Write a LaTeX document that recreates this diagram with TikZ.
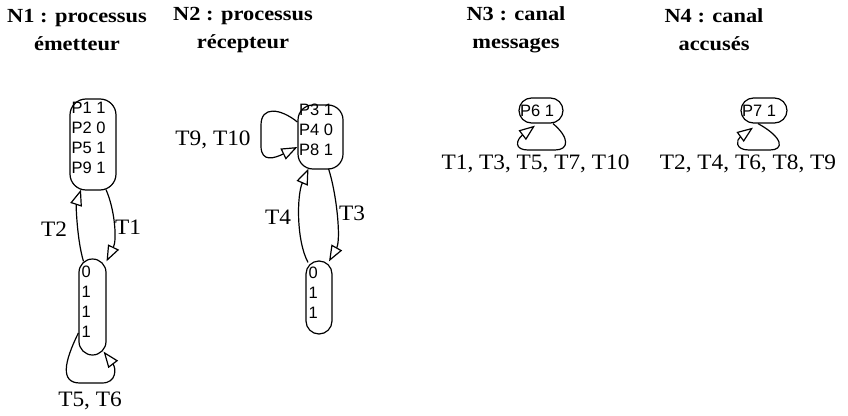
\documentclass[tikz,border=0pt]{standalone}
\usepackage{fontspec}
\setmainfont{Liberation Serif}
\newfontfamily\titlefont[FakeStretch=1.12]{Liberation Serif}
\newfontfamily\labfont[FakeStretch=1.06]{Liberation Serif}
\newfontfamily\placefont{Liberation Sans}
\usetikzlibrary{arrows.meta}
\begin{document}
\begin{tikzpicture}[x=1pt,y=-1pt,line width=1.2pt,
  statebox/.style={draw,rectangle,inner sep=0pt},
  placetext/.style={font=\placefont\fontsize{16.5}{20}\selectfont,align=left,inner sep=0pt,anchor=west},
  titletext/.style={font=\titlefont\bfseries\fontsize{20}{28}\selectfont,align=center,inner sep=0pt},
  lab/.style={font=\labfont\fontsize{22}{24}\selectfont,inner sep=0pt},
  arc/.style={-{Triangle[open,length=16pt,width=12pt]},line width=1.2pt}]
\useasboundingbox (0,0) rectangle (848,415);

% titles
\node[titletext] (t1) at (77,30) {N1 : processus\\émetteur};
\node[titletext] (t2) at (243,30) {N2 : processus\\récepteur};
\node[titletext] (t3) at (516,30) {N3 : canal\\messages};
\node[titletext] (t4) at (714,30) {N4 : canal\\accusés};

% N1
\node[statebox,rounded corners=16pt,minimum width=46pt,minimum height=91pt] (n1a) at (93,144.5) {};
\node[placetext] (n1at) at (71,138) {P1 1\\P2 0\\P5 1\\P9 1};
\node[statebox,rounded corners=13.5pt,minimum width=27pt,minimum height=96pt] (n1b) at (92.5,307) {};
\node[placetext] (n1bt) at (81,302) {0\\1\\1\\1};

\draw[arc] ([xshift=-9pt,yshift=-3pt]n1b.north) .. controls (77,240) and (76,205) .. ([xshift=-12pt,yshift=1pt]n1a.south);
\draw[arc] ([xshift=13pt,yshift=1pt]n1a.south) .. controls (115,210) and (117,240) .. ([xshift=14pt,yshift=-3pt]n1b.north);
\draw[arc] ([yshift=-26pt]n1b.west) .. controls (64,362) and (60,383) .. (80,383) -- (102,383) .. controls (117,383) and (116,368) .. ([xshift=-3pt,yshift=4pt]n1b.south east);

\node[lab] (l2) at (54,229) {T2};
\node[lab] (l1) at (128,227) {T1};
\node[lab] (l56) at (90,401) {T5, T6};

% N2
\node[statebox,rounded corners=15pt,minimum width=45pt,minimum height=64pt] (n2a) at (320.5,137) {};
\node[placetext] (n2at) at (298.5,130) {P3 1\\P4 0\\P8 1};
\node[statebox,rounded corners=13pt,minimum width=26pt,minimum height=73pt] (n2b) at (319,297.5) {};
\node[placetext] (n2bt) at (308,293) {0\\1\\1};

\draw[arc] ([xshift=-11pt,yshift=-2pt]n2b.north) .. controls (296,240) and (297,195) .. ([xshift=-12pt,yshift=1pt]n2a.south);
\draw[arc] ([xshift=8pt,yshift=1pt]n2a.south) .. controls (337,195) and (341,240) .. ([xshift=10pt,yshift=-1pt]n2b.north);
\draw[arc] ([yshift=15pt]n2a.west) .. controls (280,108) and (261,106) .. (261,125) -- (261,146) .. controls (261,163) and (275,158) .. ([yshift=-10pt]n2a.west);

\node[lab] (l9) at (213,140) {T9, T10};
\node[lab] (l4) at (278,217) {T4};
\node[lab] (l3) at (352,213) {T3};

% N3
\node[statebox,rounded corners=12.5pt,minimum width=44pt,minimum height=25pt] (n3) at (541,110.5) {};
\node[placetext,anchor=center] (n3t) at (537,111) {P6 1};
\draw[arc] ([xshift=12pt]n3.south) .. controls (570,138) and (569,150) .. (555,150) -- (528,150) .. controls (514,150) and (516,140) .. ([xshift=-6pt,yshift=-2pt]n3.south);
\node[lab] (l3b) at (535.5,164) {T1, T3, T5, T7, T10};

% N4
\node[statebox,rounded corners=12.5pt,minimum width=46pt,minimum height=25pt] (n4) at (764,110.5) {};
\node[placetext,anchor=center] (n4t) at (759,111) {P7 1};
\draw[arc] ([xshift=-6pt]n4.south) .. controls (784,138) and (784,150) .. (770,150) -- (749,150) .. controls (735,150) and (736,140) .. ([xshift=-11pt,yshift=-4pt]n4.south);
\node[lab] (l4b) at (748,164) {T2, T4, T6, T8, T9};
\end{tikzpicture}
\end{document}
